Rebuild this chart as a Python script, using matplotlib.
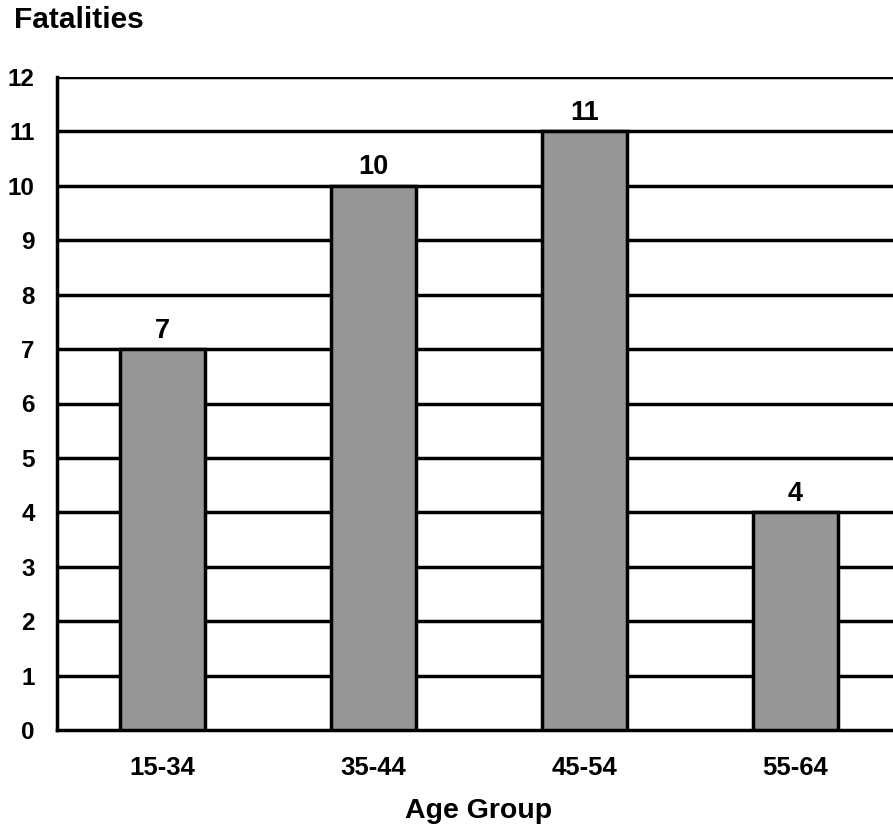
import matplotlib.pyplot as plt

# veriler
gruplar = ["15-34", "35-44", "45-54", "55-64"]
olumler = [7, 10, 11, 4]
yTikler = list(range(0, 13))

plt.rcParams['font.family'] = ['Liberation Sans', 'DejaVu Sans']
plt.rcParams['font.weight'] = 'bold'

fig = plt.figure(figsize=(8.93, 8.27), dpi=100)
# eksen, sağ kenarı resmin dışına taşar (orijinalde kırpılmış)
ax = fig.add_axes([57/893, 97/827, 844/893, 653/827])

x = list(range(len(gruplar)))
ax.bar(x, olumler, width=0.4, color="#969696", edgecolor="black",
       linewidth=2.5, zorder=3)

# çubuk üstü değerler
for xi, v in zip(x, olumler):
    ax.annotate(str(v), (xi, v), xytext=(0, 4), textcoords="offset points",
                ha="center", va="bottom", fontsize=19.5, fontweight="bold")

ax.set_xlim(-0.5, 3.5)
ax.set_ylim(0, 12)
ax.set_yticks(yTikler)
ax.set_xticks(x)
ax.set_xticklabels(gruplar)
ax.tick_params(axis="both", length=0)
ax.tick_params(axis="x", pad=18.5, labelsize=18.5)
ax.tick_params(axis="y", pad=16, labelsize=17.5)

for yv in yTikler[1:]:
    ax.axhline(yv, color="black", linewidth=2.5, zorder=1)

for s in ["top", "right"]:
    ax.spines[s].set_visible(False)
ax.spines["left"].set_linewidth(2.5)
ax.spines["bottom"].set_linewidth(2.5)

# eksen başlıkları
fig.text(479/893, 9/827, "Age Group", fontsize=20.5, fontweight="bold",
         ha="center", va="baseline")
fig.text(14/893, 1 - 20/827, "Fatalities", fontsize=21.5, fontweight="bold",
         va="center", ha="left")

fig.savefig("out.png", dpi=100)
